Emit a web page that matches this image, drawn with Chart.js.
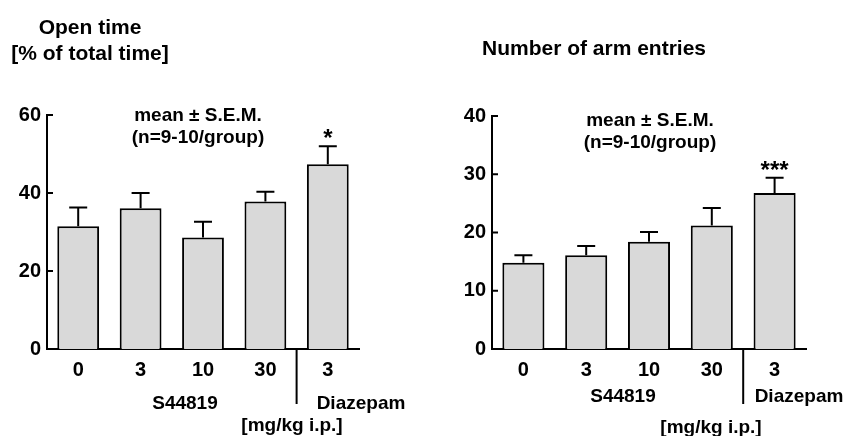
<!DOCTYPE html>
<html>
<head>
<meta charset="utf-8">
<script src="https://cdn.jsdelivr.net/npm/chart.js@4.4.1/dist/chart.umd.min.js"></script>
<style>
  html, body { margin: 0; padding: 0; background: #fff; }
  #wrap { position: relative; width: 845px; height: 436px; overflow: hidden; font-family: 'Liberation Sans', Arial, sans-serif; font-weight: bold; color: #000; }
  canvas { position: absolute; top: 0; }
  .lbl { position: absolute; transform: translate(-50%, -50%); white-space: nowrap; font-size: 19px; line-height: 22px; text-align: center; }
  .title { font-size: 21px; line-height: 26px; }
</style>
</head>
<body>
<div id="wrap">
  <canvas id="openTime" width="420" height="436" style="left:0"></canvas>
  <canvas id="entries" width="425" height="436" style="left:420px"></canvas>

  <div class="lbl title" style="left:90px; top:40px">Open time<br>[% of total time]</div>
  <div class="lbl title" style="left:594px; top:48px">Number of arm entries</div>

  <div class="lbl" style="left:198px; top:126px">mean ± S.E.M.<br>(n=9-10/group)</div>
  <div class="lbl" style="left:650px; top:131px">mean ± S.E.M.<br>(n=9-10/group)</div>

  <div class="lbl" style="left:185px; top:403px">S44819</div>
  <div class="lbl" style="left:361px; top:403px">Diazepam</div>
  <div class="lbl" style="left:292px; top:425px">[mg/kg i.p.]</div>

  <div class="lbl" style="left:623px; top:396px">S44819</div>
  <div class="lbl" style="left:799px; top:396px">Diazepam</div>
  <div class="lbl" style="left:711px; top:427px">[mg/kg i.p.]</div>
</div>
<script>
const doses = ['0', '3', '10', '30', '3'];

const openTimeMean = [31.5, 36.1, 28.6, 37.8, 47.4];
const openTimeSem = [4.8, 3.9, 4.0, 2.5, 4.6];
const openTimeSig = ['', '', '', '', '*'];
const openTimeTicks = [0, 20, 40, 60];

const entriesMean = [14.8, 16.1, 18.4, 21.2, 26.8];
const entriesSem = [1.3, 1.6, 1.7, 3.0, 2.6];
const entriesSig = ['', '', '', '', '***'];
const entriesTicks = [0, 10, 20, 30, 40];

const FONT = "'Liberation Sans', Arial, sans-serif";

// error bars (upper half only), significance stars, inward y ticks and
// the divider between the S44819 doses and diazepam
const extrasPlugin = {
  id: 'extras',
  afterDatasetsDraw(chart, args, opts) {
    const ctx = chart.ctx;
    const y = chart.scales.y;
    const area = chart.chartArea;
    const bars = chart.getDatasetMeta(0).data;
    ctx.save();
    ctx.strokeStyle = '#000';
    ctx.lineWidth = 2;
    ctx.fillStyle = '#000';

    bars.forEach((bar, i) => {
      const top = y.getPixelForValue(opts.means[i] + opts.sems[i]);
      const base = y.getPixelForValue(opts.means[i]);
      ctx.beginPath();
      ctx.moveTo(bar.x, base);
      ctx.lineTo(bar.x, top);
      ctx.moveTo(bar.x - 9, top);
      ctx.lineTo(bar.x + 9, top);
      ctx.stroke();
      if (opts.sig[i]) {
        ctx.font = 'bold 24px ' + FONT;
        ctx.textAlign = 'center';
        ctx.textBaseline = 'alphabetic';
        ctx.fillText(opts.sig[i], bar.x, top);
      }
    });

    opts.ticks.forEach(v => {
      const py = y.getPixelForValue(v);
      if (v === 0) return;
      ctx.beginPath();
      ctx.moveTo(area.left, py);
      ctx.lineTo(area.left + 6, py);
      ctx.stroke();
    });

    const sx = (bars[3].x + bars[4].x) / 2;
    ctx.beginPath();
    ctx.moveTo(sx, area.bottom);
    ctx.lineTo(sx, area.bottom + 55);
    ctx.stroke();
    ctx.restore();
  }
};

function makeChart(id, means, sems, sig, ticks, yWidth, pad) {
  const step = ticks[1] - ticks[0];
  return new Chart(document.getElementById(id), {
    type: 'bar',
    data: {
      labels: doses,
      datasets: [{
        data: means,
        backgroundColor: '#d9d9d9',
        borderColor: '#000',
        borderWidth: 2,
        borderSkipped: 'start',
        categoryPercentage: 0.67,
        barPercentage: 1.0
      }]
    },
    options: {
      responsive: false,
      animation: false,
      layout: { padding: pad },
      plugins: {
        legend: { display: false },
        tooltip: { enabled: false },
        extras: { means: means, sems: sems, sig: sig, ticks: ticks }
      },
      scales: {
        x: {
          grid: { display: false, drawTicks: false },
          border: { display: true, color: '#000', width: 2 },
          ticks: { color: '#000', padding: 9, font: { family: FONT, size: 20, weight: 'bold' } },
          afterFit: s => { s.height = 87; }
        },
        y: {
          min: ticks[0],
          max: ticks[ticks.length - 1],
          grid: { display: false, drawTicks: false },
          border: { display: true, color: '#000', width: 2 },
          ticks: { stepSize: step, color: '#000', padding: 6, font: { family: FONT, size: 20, weight: 'bold' } },
          afterFit: s => { s.width = yWidth; }
        }
      }
    },
    plugins: [extrasPlugin]
  });
}

makeChart('openTime', openTimeMean, openTimeSem, openTimeSig, openTimeTicks, 47,
  { left: 0, right: 61, top: 115, bottom: 0 });
makeChart('entries', entriesMean, entriesSem, entriesSig, entriesTicks, 72,
  { left: 0, right: 39, top: 116, bottom: 0 });
</script>
</body>
</html>
